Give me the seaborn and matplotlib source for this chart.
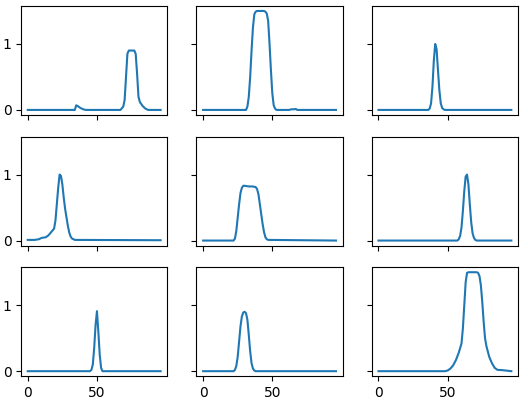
import matplotlib
matplotlib.use("Agg")
import matplotlib.pyplot as plt
import seaborn as sns

# key points (x, y), one pair of lists per panel
x1 = [0, 34, 35, 36, 38, 40, 42, 67, 69, 70, 71, 72, 73, 77, 78, 79, 80, 81, 83, 85, 87, 96]
y1 = [0, 0, 0.07, 0.06, 0.03, 0.01, 0, 0, 0.05, 0.15, 0.5, 0.85, 0.9, 0.9, 0.85, 0.55, 0.2, 0.12, 0.06, 0.02, 0, 0]

x2 = [0, 31, 32, 33, 34, 35, 36, 37, 38, 39, 44, 45, 46, 47, 48, 49, 50, 51, 52, 53, 62, 64, 66, 67, 68, 96]
y2 = [0, 0, 0.05, 0.2, 0.5, 0.9, 1.25, 1.45, 1.49, 1.5, 1.5, 1.49, 1.46, 1.35, 1.0, 0.6, 0.25, 0.07, 0.02, 0, 0, 0.01, 0.01, 0.015, 0, 0]

x3 = [0, 36, 37, 38, 39, 40, 41, 42, 43, 44, 45, 46, 47, 48, 96]
y3 = [0, 0, 0.02, 0.1, 0.35, 0.75, 1.0, 0.92, 0.6, 0.3, 0.1, 0.03, 0.01, 0, 0]

x4 = [0, 5, 8, 10, 13, 15, 17, 19, 20, 21, 22, 23, 24, 25, 26, 27, 28, 29, 30, 31, 32, 34, 96]
y4 = [0.01, 0.01, 0.02, 0.04, 0.05, 0.08, 0.13, 0.18, 0.3, 0.55, 0.8, 1.0, 0.98, 0.85, 0.65, 0.48, 0.35, 0.22, 0.12, 0.06, 0.03, 0.01, 0.005]

x5 = [0, 22, 23, 24, 25, 26, 27, 28, 29, 30, 33, 36, 38, 39, 40, 41, 42, 43, 44, 45, 46, 47, 96]
y5 = [0, 0, 0.03, 0.15, 0.35, 0.55, 0.72, 0.8, 0.83, 0.83, 0.82, 0.82, 0.81, 0.78, 0.7, 0.55, 0.4, 0.25, 0.13, 0.05, 0.02, 0.01, 0]

x6 = [0, 57, 58, 59, 60, 61, 62, 63, 64, 65, 66, 67, 68, 69, 70, 71, 96]
y6 = [0, 0, 0.02, 0.07, 0.2, 0.45, 0.75, 0.97, 1.0, 0.85, 0.55, 0.28, 0.11, 0.04, 0.01, 0, 0]

x7 = [0, 45, 46, 47, 48, 49, 50, 51, 52, 53, 54, 96]
y7 = [0, 0, 0.02, 0.1, 0.35, 0.7, 0.91, 0.6, 0.25, 0.05, 0, 0]

x8 = [0, 22, 23, 24, 25, 26, 27, 28, 29, 30, 31, 32, 33, 34, 35, 36, 37, 38, 96]
y8 = [0, 0, 0.02, 0.08, 0.22, 0.45, 0.68, 0.83, 0.89, 0.9, 0.88, 0.78, 0.55, 0.3, 0.12, 0.04, 0.01, 0, 0]

x9 = [0, 48, 50, 52, 54, 56, 58, 60, 61, 62, 63, 64, 65, 71, 72, 73, 74, 75, 76, 77, 78, 79, 80, 82, 84, 86, 90, 96]
y9 = [0, 0, 0.01, 0.04, 0.09, 0.17, 0.28, 0.42, 0.65, 1.0, 1.35, 1.49, 1.5, 1.5, 1.49, 1.44, 1.3, 1.05, 0.75, 0.5, 0.38, 0.3, 0.22, 0.12, 0.05, 0.02, 0.015, 0]

xs = [x1, x2, x3, x4, x5, x6, x7, x8, x9]
ys = [y1, y2, y3, y4, y5, y6, y7, y8, y9]

fig, axes = plt.subplots(3, 3, figsize=(5.28, 4.01), dpi=100, sharex=True, sharey=True)
for ax, x, y in zip(axes.flat, xs, ys):
    sns.lineplot(x=x, y=y, ax=ax, color="tab:blue", linewidth=1.5)
    ax.set_xticks([0, 50])
    ax.set_yticks([0, 1])

fig.subplots_adjust(left=0.04, right=0.981, top=0.985, bottom=0.062, wspace=0.2, hspace=0.2)
plt.savefig("out.png", dpi=100)
plt.close()
